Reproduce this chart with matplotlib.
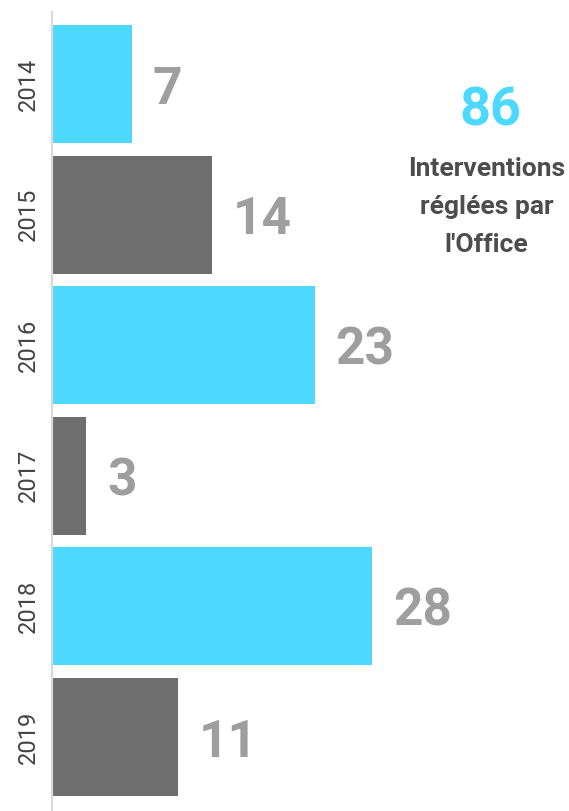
import matplotlib.pyplot as plt

plt.rcParams['font.family'] = ['Roboto', 'DejaVu Sans']

years = ["2014", "2015", "2016", "2017", "2018", "2019"]
values = [7, 14, 23, 3, 28, 11]
total = 86
caption = "Interventions\nréglées par\nl'Office"

CYAN = "#4dd9ff"
GREY = "#6e6e6e"
colors = [CYAN if i % 2 == 0 else GREY for i in range(len(values))]

fig = plt.figure(figsize=(5.69, 8.11), dpi=100)
ax = fig.add_axes([52 / 569, 0, 517 / 569, 799 / 811])

pos = list(range(len(years)))
ax.barh(pos, values, height=0.903, color=colors)

# value labels to the right of each bar
for y, v in zip(pos, values):
    ax.annotate(str(v), (v, y), xytext=(15, -4), textcoords="offset points",
                va="center", ha="left", fontsize=37, fontweight="bold",
                color="#9e9e9e")

ax.set_xlim(0, 517 / 11.43)
ax.set_ylim(5.567, -0.551)
ax.set_yticks(pos)
ax.set_yticklabels(years, rotation=90, va="center", fontsize=17, color="#444444")
ax.tick_params(axis="y", length=0, pad=9)
ax.set_xticks([])

for side in ["top", "right", "bottom"]:
    ax.spines[side].set_visible(False)
ax.spines["left"].set_color("#d9d9d9")
ax.spines["left"].set_linewidth(1.6)

fig.text(491 / 569, 1 - 111 / 811, str(total), ha="center", va="center",
         fontsize=39, fontweight="bold", color=CYAN)
fig.text(486.5 / 569, 1 - 207 / 811, caption, ha="center", va="center",
         fontsize=19, fontweight="bold", color="#4d4d4d", linespacing=1.75)

fig.savefig("out.png", dpi=100)
